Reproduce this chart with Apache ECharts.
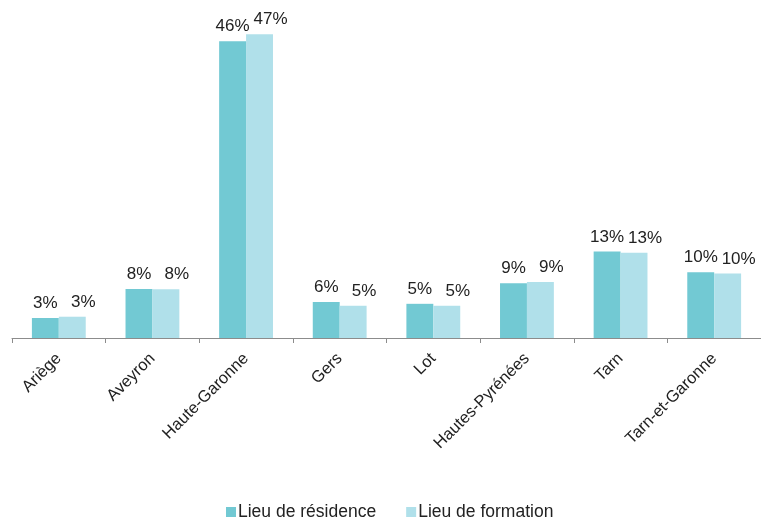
<!DOCTYPE html>
<html>
<head>
<meta charset="utf-8">
<script src="https://cdn.jsdelivr.net/npm/echarts@6/dist/echarts.min.js"></script>
<style>
html,body{margin:0;padding:0;background:#fff;}
#chart{width:761px;height:522px;}
</style>
</head>
<body>
<div id="chart"></div>
<script>
const categories = ['Ariège','Aveyron','Haute-Garonne','Gers','Lot','Hautes-Pyrénées','Tarn','Tarn-et-Garonne'];
const residence = [3.1, 7.6, 46.0, 5.6, 5.3, 8.5, 13.4, 10.2];
const formation = [3.3, 7.55, 47.1, 5.0, 5.0, 8.7, 13.2, 10.0];
const seriesNames = ['Lieu de résidence', 'Lieu de formation'];

const chart = echarts.init(document.getElementById('chart'));
const font = 'Liberation Sans, Arial, sans-serif';
const labelBase = {
  show: true, position: 'top', distance: 6,
  color: '#222', fontSize: 17, fontFamily: font,
  formatter: p => Math.round(p.value) + '%'
};
chart.setOption({
  animation: false,
  textStyle: {fontFamily: font},
  grid: {left: 12, width: 751, top: 15.5, bottom: 184, containLabel: false},
  xAxis: {
    type: 'category', data: categories,
    axisLine: {show: true, lineStyle: {color: '#8c8c8c', width: 1}},
    axisTick: {show: true, length: 5, lineStyle: {color: '#8c8c8c'}},
    axisLabel: {rotate: 45, color: '#222', fontSize: 16.5, fontFamily: font, margin: 18, interval: 0}
  },
  yAxis: {type: 'value', min: 0, max: 50, show: false, splitLine: {show: false}},
  legend: {
    data: seriesNames, left: 226, top: 503, padding: 0, itemWidth: 10, itemHeight: 10, itemGap: 30,
    icon: 'rect',
    textStyle: {color: '#222', fontSize: 17.5, fontFamily: font, padding: [0,0,0,-3]}
  },
  series: [
    {name: seriesNames[0], type: 'bar', data: residence, barGap: '0%', barCategoryGap: '42.5%',
     itemStyle: {color: '#72C9D3'}, label: labelBase},
    {name: seriesNames[1], type: 'bar', data: formation,
     itemStyle: {color: '#B0E0EA'}, label: Object.assign({}, labelBase, {offset: [11, 0]})}
  ]
});
</script>
</body>
</html>
